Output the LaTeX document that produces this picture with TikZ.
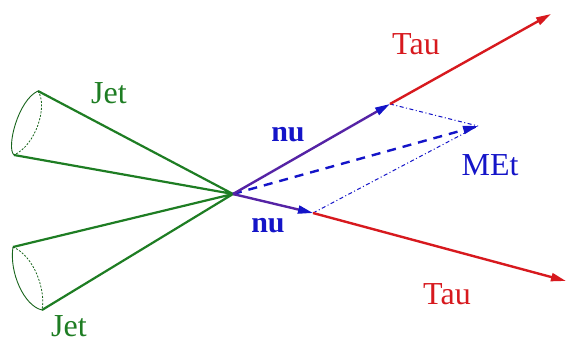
\documentclass[tikz,border=0pt]{standalone}
\usepackage{fontspec}
\setmainfont{Liberation Serif}
\usetikzlibrary{arrows.meta}
\definecolor{jetgreen}{RGB}{30,125,35}
\definecolor{taured}{RGB}{215,25,30}
\definecolor{nublue}{RGB}{20,20,200}
\definecolor{nuline}{RGB}{85,35,165}
\tikzset{
  lbl/.style={inner sep=0pt, font=\fontsize{32}{36}\selectfont},
  jetline/.style={draw=jetgreen, line width=2.2pt},
  rim/.style={draw=jetgreen!80!black, line width=0.9pt},
  rimback/.style={draw=jetgreen!80!black, line width=0.8pt, dash pattern=on 2pt off 1.5pt},
  tauline/.style={draw=taured, line width=2.4pt, -{Triangle[length=15pt,width=8pt,color=taured]}},
  nuarrow/.style={draw=nuline, line width=2.4pt, -{Triangle[length=15pt,width=8pt,color=nublue]}},
  metarrow/.style={draw=nublue, line width=2.4pt, dash pattern=on 9pt off 7pt, -{Triangle[length=15pt,width=8pt,color=nublue]}},
  dashdot/.style={draw=nublue, line width=1pt, dash pattern=on 4pt off 2.5pt on 1pt off 2.5pt},
}
\begin{document}
\begin{tikzpicture}[x=1pt,y=-1pt]
\useasboundingbox (0,0) rectangle (566,345);
% vertex and end points
\coordinate (O) at (233,194);
\coordinate (N1) at (390,104);
\coordinate (N2) at (313,213);
\coordinate (T1) at (551,14);
\coordinate (T2) at (566,281);
\coordinate (M) at (478,126);
% jet cones
\coordinate (J1a) at (38,91);
\coordinate (J1b) at (14,155);
\coordinate (J2a) at (13,247);
\coordinate (J2b) at (42,310);
\draw[jetline] (J1a) -- (O) -- (J1b);
\draw[jetline] (J2a) -- (O) -- (J2b);
\draw[rim] (J1a) .. controls (18,100) and (6,148) .. (J1b);
\draw[rimback] (J1a) .. controls (48,106) and (36,145) .. (J1b);
\draw[rim] (J2a) .. controls (9,272) and (24,306) .. (J2b);
\draw[rimback] (J2a) .. controls (34,256) and (46,290) .. (J2b);
% dash-dot construction lines
\draw[dashdot] (N1) -- (M);
\draw[dashdot] (N2) -- (M);
% MEt
\draw[metarrow] (O) -- (M);
% taus
\draw[tauline] (N1) -- (T1);
\draw[tauline] (N2) -- (T2);
% neutrinos
\draw[nuarrow] (O) -- (N1);
\draw[nuarrow] (O) -- (N2);
% labels
\node[lbl, text=taured] (tau1) at (416,44) {Tau};
\node[lbl, text=taured] (tau2) at (447,294) {Tau};
\node[lbl, text=nublue] (met) at (490,165) {MEt};
\node[lbl, text=nublue, font=\fontsize{30}{34}\selectfont\bfseries] (nu1) at (288,135) {nu};
\node[lbl, text=nublue, font=\fontsize{30}{34}\selectfont\bfseries] (nu2) at (268,226) {nu};
\node[lbl, text=jetgreen] (jet1) at (109,93) {Jet};
\node[lbl, text=jetgreen] (jet2) at (69,326) {Jet};
\end{tikzpicture}
\end{document}
